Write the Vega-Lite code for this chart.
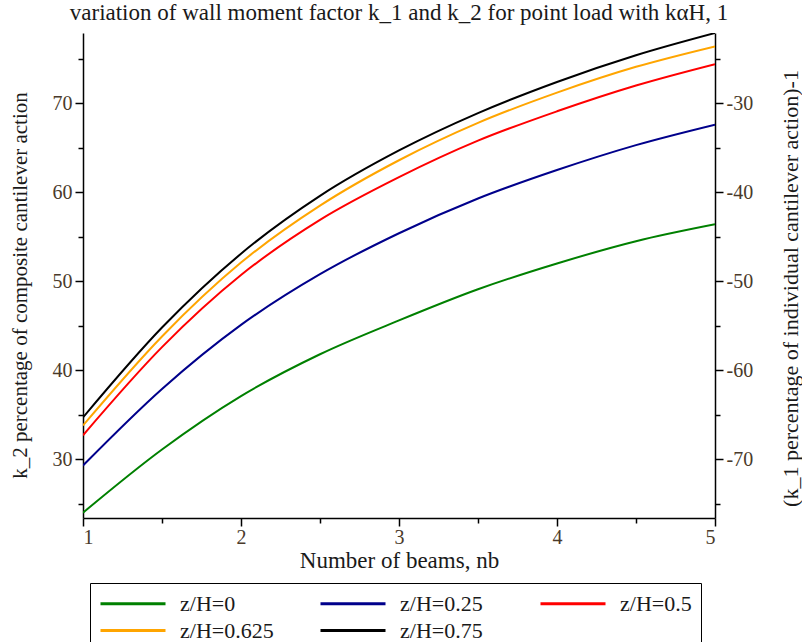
{
  "$schema": "https://vega.github.io/schema/vega-lite/v6.json",
  "autosize": {"type": "none"},
  "width": 632,
  "height": 485,
  "padding": {"left": 83, "top": 33, "right": 87, "bottom": 124},
  "background": "white",
  "title": {
    "text": "variation of wall moment factor k_1 and k_2 for point load with kαH, 1",
    "font": "Liberation Serif",
    "fontSize": 23,
    "fontWeight": "normal",
    "color": "#1a1a1a",
    "anchor": "middle",
    "offset": 8
  },
  "config": {
    "view": {"stroke": null},
    "axis": {
      "grid": false,
      "domainColor": "black",
      "domainWidth": 1.5,
      "tickColor": "black",
      "tickWidth": 1.5,
      "labelFont": "Liberation Serif",
      "labelFontSize": 20,
      "labelColor": "#4a3a2a",
      "titleFont": "Liberation Serif",
      "titleFontSize": 22,
      "titleFontWeight": "normal",
      "titleColor": "#1a1a1a"
    },
    "legend": {
      "orient": "none",
      "legendX": 7,
      "legendY": 550,
      "direction": "horizontal",
      "columns": 3,
      "gridAlign": "all",
      "columnPadding": 40,
      "rowPadding": 4,
      "symbolType": "M-1,0H5.5",
      "symbolSize": 400,
      "symbolStrokeWidth": 3,
      "labelFont": "Liberation Serif",
      "labelFontSize": 22,
      "labelColor": "#1a1a1a",
      "labelOffset": 58,
      "labelLimit": 300,
      "strokeColor": "black",
      "padding": 9
    }
  },
  "data": {
    "values": [
      {"nb": 1, "k2": 24.0, "series": "z/H=0"},
      {"nb": 1.5, "k2": 31.1, "series": "z/H=0"},
      {"nb": 2, "k2": 37.1, "series": "z/H=0"},
      {"nb": 2.5, "k2": 41.8, "series": "z/H=0"},
      {"nb": 3, "k2": 45.6, "series": "z/H=0"},
      {"nb": 3.5, "k2": 49.1, "series": "z/H=0"},
      {"nb": 4, "k2": 52.0, "series": "z/H=0"},
      {"nb": 4.5, "k2": 54.5, "series": "z/H=0"},
      {"nb": 5, "k2": 56.4, "series": "z/H=0"},
      {"nb": 1, "k2": 29.3, "series": "z/H=0.25"},
      {"nb": 1.5, "k2": 37.9, "series": "z/H=0.25"},
      {"nb": 2, "k2": 45.1, "series": "z/H=0.25"},
      {"nb": 2.5, "k2": 50.8, "series": "z/H=0.25"},
      {"nb": 3, "k2": 55.4, "series": "z/H=0.25"},
      {"nb": 3.5, "k2": 59.3, "series": "z/H=0.25"},
      {"nb": 4, "k2": 62.5, "series": "z/H=0.25"},
      {"nb": 4.5, "k2": 65.3, "series": "z/H=0.25"},
      {"nb": 5, "k2": 67.6, "series": "z/H=0.25"},
      {"nb": 1, "k2": 32.7, "series": "z/H=0.5"},
      {"nb": 1.5, "k2": 42.6, "series": "z/H=0.5"},
      {"nb": 2, "k2": 50.7, "series": "z/H=0.5"},
      {"nb": 2.5, "k2": 56.9, "series": "z/H=0.5"},
      {"nb": 3, "k2": 61.7, "series": "z/H=0.5"},
      {"nb": 3.5, "k2": 65.8, "series": "z/H=0.5"},
      {"nb": 4, "k2": 69.1, "series": "z/H=0.5"},
      {"nb": 4.5, "k2": 72.0, "series": "z/H=0.5"},
      {"nb": 5, "k2": 74.4, "series": "z/H=0.5"},
      {"nb": 1, "k2": 33.8, "series": "z/H=0.625"},
      {"nb": 1.5, "k2": 43.8, "series": "z/H=0.625"},
      {"nb": 2, "k2": 52.1, "series": "z/H=0.625"},
      {"nb": 2.5, "k2": 58.5, "series": "z/H=0.625"},
      {"nb": 3, "k2": 63.6, "series": "z/H=0.625"},
      {"nb": 3.5, "k2": 67.8, "series": "z/H=0.625"},
      {"nb": 4, "k2": 71.2, "series": "z/H=0.625"},
      {"nb": 4.5, "k2": 74.1, "series": "z/H=0.625"},
      {"nb": 5, "k2": 76.4, "series": "z/H=0.625"},
      {"nb": 1, "k2": 34.7, "series": "z/H=0.75"},
      {"nb": 1.5, "k2": 44.8, "series": "z/H=0.75"},
      {"nb": 2, "k2": 53.1, "series": "z/H=0.75"},
      {"nb": 2.5, "k2": 59.6, "series": "z/H=0.75"},
      {"nb": 3, "k2": 64.7, "series": "z/H=0.75"},
      {"nb": 3.5, "k2": 68.9, "series": "z/H=0.75"},
      {"nb": 4, "k2": 72.4, "series": "z/H=0.75"},
      {"nb": 4.5, "k2": 75.4, "series": "z/H=0.75"},
      {"nb": 5, "k2": 77.9, "series": "z/H=0.75"}
    ]
  },
  "layer": [
    {
      "mark": {"type": "line", "strokeWidth": 2, "clip": true, "interpolate": "monotone"},
      "encoding": {
        "x": {
          "field": "nb",
          "type": "quantitative",
          "scale": {"domain": [1, 5], "nice": false, "zero": false},
          "axis": {
            "title": "Number of beams, nb",
            "titleFontSize": 23,
            "values": [1, 1.5, 2, 2.5, 3, 3.5, 4, 4.5, 5],
            "labelExpr": "datum.value % 1 === 0 ? format(datum.value, 'd') : ''",
            "tickSize": {"condition": {"test": "datum.value % 1 === 0", "value": 8}, "value": 5},
            "labelPadding": 1,
            "titlePadding": 2
          }
        },
        "y": {
          "field": "k2",
          "type": "quantitative",
          "scale": {"domain": [23.4, 77.9], "nice": false, "zero": false},
          "axis": {
            "title": "k_2 percentage of composite cantilever action",
            "titleFontSize": 21,
            "values": [25, 30, 35, 40, 45, 50, 55, 60, 65, 70, 75],
            "labelExpr": "datum.value % 10 === 0 ? datum.label : ''",
            "tickSize": {"condition": {"test": "datum.value % 10 === 0", "value": 8}, "value": 5},
            "labelPadding": 3,
            "titleX": -63,
            "titleY": 252,
            "titleBaseline": "middle"
          }
        },
        "color": {
          "field": "series",
          "type": "nominal",
          "scale": {
            "domain": ["z/H=0", "z/H=0.25", "z/H=0.5", "z/H=0.625", "z/H=0.75"],
            "range": ["#008000", "#00008b", "#ff0000", "#ffa500", "#000000"]
          },
          "legend": {"title": null}
        }
      }
    },
    {
      "mark": {"type": "line", "opacity": 0},
      "encoding": {
        "x": {"field": "nb", "type": "quantitative"},
        "y": {
          "field": "k2",
          "type": "quantitative",
          "scale": {"domain": [23.4, 77.9], "nice": false, "zero": false},
          "axis": {
            "orient": "right",
            "title": "(k_1 percentage of individual cantilever action)-1",
            "values": [25, 30, 35, 40, 45, 50, 55, 60, 65, 70, 75],
            "labelExpr": "datum.value % 10 === 0 ? '-' + (100 - datum.value) : ''",
            "tickSize": {"condition": {"test": "datum.value % 10 === 0", "value": 8}, "value": 5},
            "labelPadding": 3,
            "titleAngle": 270,
            "titleX": 75,
            "titleY": 255,
            "titleBaseline": "middle"
          }
        },
        "detail": {"field": "series", "type": "nominal"}
      }
    }
  ],
  "resolve": {"scale": {"y": "independent"}}
}
